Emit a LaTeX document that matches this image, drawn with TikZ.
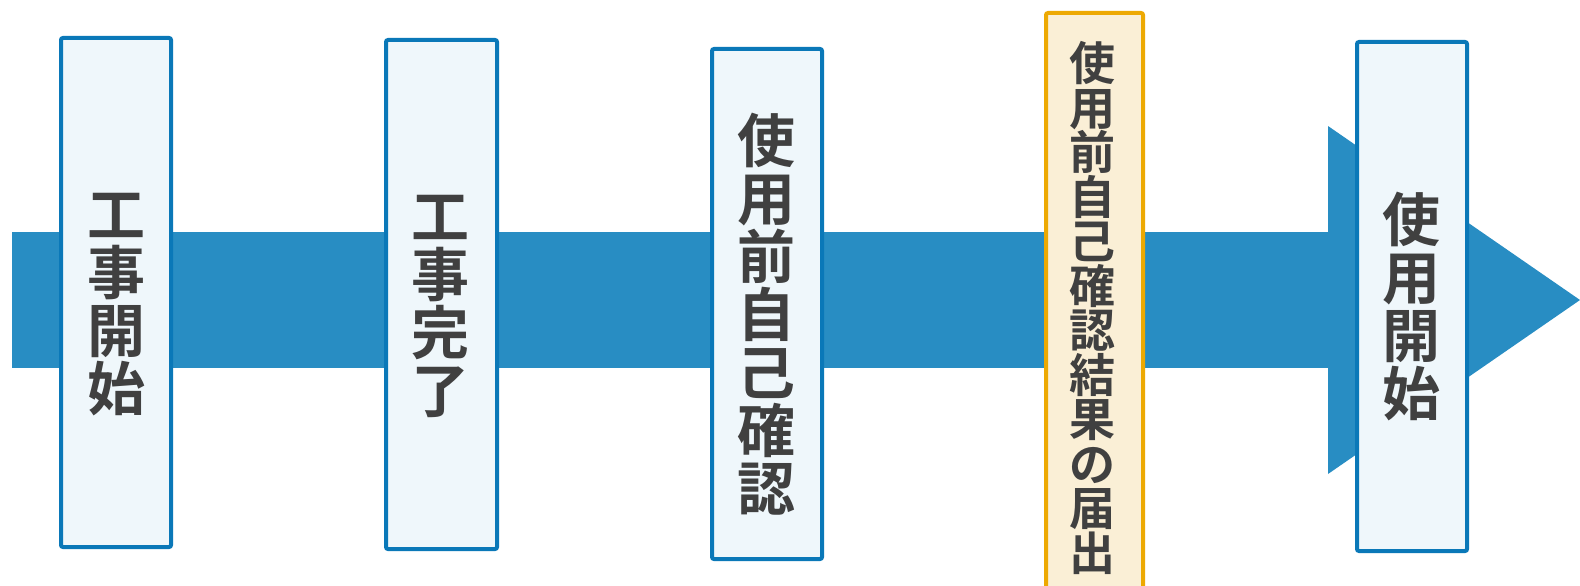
\documentclass[tikz,border=0pt]{standalone}
\usepackage{fontspec}
\newfontfamily\jp{Noto Sans CJK JP}[BoldFont={Noto Sans CJK JP Bold}]
\definecolor{band}{HTML}{288DC3}
\definecolor{bborder}{HTML}{0A78B8}
\definecolor{bfill}{HTML}{EFF7FB}
\definecolor{oborder}{HTML}{EDA902}
\definecolor{ofill}{HTML}{FAEFD6}
\definecolor{txt}{HTML}{404040}
\tikzset{
  stage/.style={draw=bborder, fill=bfill, line width=4pt, rounded corners=2pt, inner sep=0pt, anchor=north west},
  hstage/.style={draw=oborder, fill=ofill, line width=4pt, rounded corners=2pt, inner sep=0pt, anchor=north west},
  lbl/.style={text=txt, font=\jp\bfseries\fontsize{58}{58}\selectfont, align=center, inner sep=0pt},
  slbl/.style={text=txt, font=\jp\bfseries\fontsize{46}{44.5}\selectfont, align=center, inner sep=0pt},
}
\begin{document}
\begin{tikzpicture}[x=1pt,y=-1pt]
\useasboundingbox (0,0) rectangle (1580,586);
% band arrow
\fill[band] (12,232) rectangle (1330,368);
\fill[band] (1328,126) -- (1580,300) -- (1328,474) -- cycle;
% boxes
\node[stage, minimum width=110pt, minimum height=509pt] (b1) at (59,36) {};
\node[stage, minimum width=111pt, minimum height=509pt] (b2) at (384,38) {};
\node[stage, minimum width=110pt, minimum height=510pt] (b3) at (710,47) {};
\node[hstage, minimum width=97pt, minimum height=590pt] (b4) at (1044,11) {};
\node[stage, minimum width=110pt, minimum height=509pt] (b5) at (1355,40) {};
% labels
\node[lbl] (t1) at (116,305) {工\\事\\開\\始};
\node[lbl] (t2) at (440,306) {工\\事\\完\\了};
\node[lbl] (t3) at (766,314) {使\\用\\前\\自\\己\\確\\認};
\node[slbl] (t4) at (1092,308) {使\\用\\前\\自\\己\\確\\認\\結\\果\\の\\届\\出};
\node[lbl] (t5) at (1411,307) {使\\用\\開\\始};
\end{tikzpicture}
\end{document}
